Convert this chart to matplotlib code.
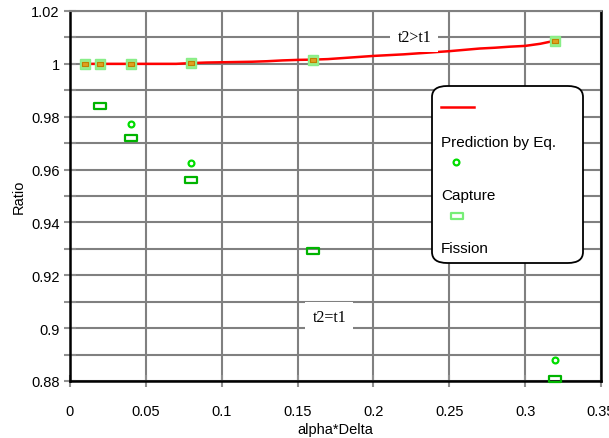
import matplotlib
matplotlib.use("Agg")
import matplotlib.pyplot as plt
from matplotlib.patches import FancyBboxPatch
from matplotlib.lines import Line2D
from matplotlib.path import Path
import numpy as np

# ---- data ----
pred_x = [0.01, 0.02, 0.03, 0.04, 0.05, 0.06, 0.07, 0.08, 0.09, 0.10,
          0.11, 0.12, 0.13, 0.14, 0.15, 0.16, 0.17, 0.18, 0.19, 0.20,
          0.21, 0.22, 0.23, 0.24, 0.25, 0.26, 0.27, 0.28, 0.29, 0.30,
          0.31, 0.32]
pred_y = [1.0000, 1.0000, 1.0000, 1.0000, 1.0000, 1.0000, 1.0000, 1.0003, 1.0005, 1.0006,
          1.0007, 1.0008, 1.0010, 1.0013, 1.0015, 1.0016, 1.0018, 1.0022, 1.0026, 1.0030,
          1.0033, 1.0036, 1.0040, 1.0044, 1.0048, 1.0053, 1.0058, 1.0061, 1.0065, 1.0068,
          1.0076, 1.0088]

upper_x = [0.01, 0.02, 0.04, 0.08, 0.16, 0.32]
upper_y = [1.0000, 1.0000, 1.0000, 1.0004, 1.0016, 1.0088]

capture_x = [0.04, 0.08, 0.32]
capture_y = [0.9772, 0.9623, 0.8879]

fission_x = [0.02, 0.04, 0.08, 0.16, 0.32]
fission_y = [0.9840, 0.9718, 0.9559, 0.9292, 0.8809]

x_ticks = [0, 0.05, 0.1, 0.15, 0.2, 0.25, 0.3, 0.35]
x_tick_labels = ["0", "0.05", "0.1", "0.15", "0.2", "0.25", "0.3", "0.35"]
y_ticks = [0.88, 0.9, 0.92, 0.94, 0.96, 0.98, 1.0, 1.02]
y_tick_labels = ["0.88", "0.9", "0.92", "0.94", "0.96", "0.98", "1", "1.02"]
legend_labels = ["Prediction by Eq.", "Capture", "Fission"]

plt.rcParams['font.family'] = ['Liberation Sans', 'DejaVu Sans']

W, H = 609, 439
fig = plt.figure(figsize=(W / 100, H / 100), dpi=100)
ax = fig.add_axes([70 / W, 1 - 382 / H, (601 - 70) / W, (382 - 12) / H])

ax.set_xlim(0, 0.35)
ax.set_ylim(0.88, 1.02)
ax.set_xticks(x_ticks)
ax.set_xticklabels(x_tick_labels)
ax.set_yticks(y_ticks)
ax.set_yticklabels(y_tick_labels)
ax.set_yticks(np.arange(0.89, 1.02, 0.02), minor=True)
ax.grid(True, which='both', color='#808080', lw=1.5)
ax.set_axisbelow(True)
ax.tick_params(which='both', direction='inout', length=9, width=1.5, color='#909090',
               labelsize=10.5)
ax.tick_params(axis='x', pad=12)
ax.tick_params(axis='y', pad=3)

for s in ['left', 'bottom', 'right']:
    ax.spines[s].set_color('black')
    ax.spines[s].set_linewidth(1.8)
ax.spines['top'].set_color('#808080')
ax.spines['top'].set_linewidth(1.5)

ax.set_xlabel("alpha*Delta", fontsize=10.5, labelpad=3)
ax.set_ylabel("Ratio", fontsize=10.5, labelpad=4)

rect_marker = Path([(-1, -0.6), (1, -0.6), (1, 0.6), (-1, 0.6), (-1, -0.6)],
                   [Path.MOVETO, Path.LINETO, Path.LINETO, Path.LINETO, Path.CLOSEPOLY])

ax.plot(pred_x, pred_y, color='#ff0000', lw=1.8, zorder=3)
ax.plot(upper_x, upper_y, ls='none', marker='s', ms=7, mfc='#99ee88',
        mec='#88ee88', mew=1, zorder=4, clip_on=False)
ax.plot(upper_x, upper_y, ls='none', marker=rect_marker, ms=4, mfc='#e0a020',
        mec='#c08000', mew=0.8, zorder=5, clip_on=False)
ax.plot(capture_x, capture_y, ls='none', marker='o', ms=4.2, mfc='none',
        mec='#00dd00', mew=1.6, zorder=4, clip_on=False)
ax.plot(fission_x, fission_y, ls='none', marker=rect_marker, ms=8, mfc='none',
        mec='#00b400', mew=1.6, zorder=4, clip_on=False)

ax.text(0.227, 1.0103, "t2>t1", family=['Liberation Serif', 'DejaVu Serif'], fontsize=11.5,
        ha='center', va='center', zorder=6,
        bbox=dict(boxstyle='square,pad=0.45', fc='white', ec='none'))
ax.text(0.171, 0.9041, "t2=t1", family=['Liberation Serif', 'DejaVu Serif'], fontsize=11.5,
        ha='center', va='center', zorder=6,
        bbox=dict(boxstyle='square,pad=0.45', fc='white', ec='none'))

# ---- legend box (drawn manually in figure pixels) ----
def fx(px):
    return px / W

def fy(py):
    return 1 - py / H

box = FancyBboxPatch((fx(432), fy(264)), fx(583) - fx(432), fy(87) - fy(264),
                     boxstyle='round,pad=0,rounding_size=0.025',
                     transform=fig.transFigure, fc='white', ec='black', lw=1.3, zorder=10)
fig.patches.append(box)
fig.lines.append(Line2D([fx(441), fx(474)], [fy(108), fy(108)], color='#ff0000', lw=1.8,
                        transform=fig.transFigure, zorder=11))
fig.lines.append(Line2D([fx(456)], [fy(162.5)], ls='none', marker='o', ms=4.2, mfc='none',
                        mec='#00dd00', mew=1.6, transform=fig.transFigure, zorder=11))
fig.lines.append(Line2D([fx(457)], [fy(217)], ls='none', marker=rect_marker, ms=8, mfc='none',
                        mec='#77ee77', mew=1.6, transform=fig.transFigure, zorder=11))
for lab, py in zip(legend_labels, [143, 196, 249]):
    fig.text(fx(441), fy(py), lab, fontsize=11, ha='left', va='center', zorder=12)

fig.savefig("out.png", dpi=100)
